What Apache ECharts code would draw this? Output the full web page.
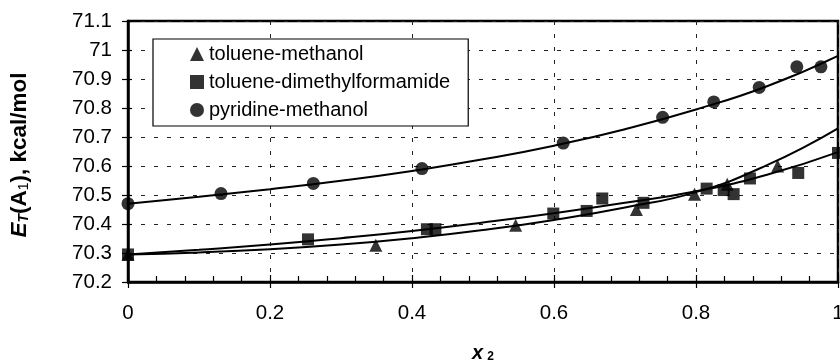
<!DOCTYPE html>
<html>
<head>
<meta charset="utf-8">
<script src="https://cdn.jsdelivr.net/npm/echarts@6/dist/echarts.min.js"></script>
<style>
  html, body { margin: 0; padding: 0; background: #fff; }
  #chart { width: 840px; height: 360px; }
</style>
</head>
<body>
<div id="chart"></div>
<script>
// ---- data ----
const xTicks = [0, 0.2, 0.4, 0.6, 0.8, 1];
const yTicks = [70.2, 70.3, 70.4, 70.5, 70.6, 70.7, 70.8, 70.9, 71, 71.1];

const seriesNames = ['toluene-methanol', 'toluene-dimethylformamide', 'pyridine-methanol'];

// measured points
const tolMethX = [0, 0.349, 0.546, 0.716, 0.798, 0.844, 0.915];
const tolMethY = [70.295, 70.327, 70.396, 70.450, 70.503, 70.537, 70.600];

const tolDmfX = [0, 0.2535, 0.421, 0.433, 0.599, 0.646, 0.668, 0.726, 0.815, 0.839, 0.853, 0.876, 0.944, 1.0];
const tolDmfY = [70.295, 70.347, 70.382, 70.382, 70.436, 70.445, 70.488, 70.473, 70.522, 70.517, 70.503, 70.557, 70.576, 70.645];

const pyrMethX = [0, 0.131, 0.261, 0.414, 0.613, 0.753, 0.825, 0.889, 0.942, 0.976];
const pyrMethY = [70.470, 70.505, 70.540, 70.591, 70.679, 70.768, 70.821, 70.871, 70.942, 70.942];

// fitted curves
const curveX = [0, 0.1, 0.2, 0.3, 0.4, 0.5, 0.6, 0.7, 0.8, 0.9, 1];
const tolMethCurve = [70.295, 70.302, 70.313, 70.329, 70.351, 70.379, 70.414, 70.457, 70.510, 70.603, 70.730];
const tolDmfCurve  = [70.295, 70.311, 70.329, 70.351, 70.376, 70.405, 70.437, 70.473, 70.513, 70.570, 70.648];
const pyrMethCurve = [70.470, 70.494, 70.520, 70.549, 70.583, 70.623, 70.670, 70.727, 70.795, 70.875, 70.980];

// ---- build chart ----
const FONT = 'Liberation Sans, Arial, sans-serif';
const zip = (xs, ys) => xs.map((x, i) => [x, ys[i]]);

const xMin = xTicks[0], xMax = xTicks[xTicks.length - 1];
const yMin = yTicks[0], yMax = yTicks[yTicks.length - 1];
const xInt = xTicks[1] - xTicks[0];
const yInt = 0.1;

const dashed = { color: '#222', width: 1, type: [4, 9] };

const chart = echarts.init(document.getElementById('chart'), null, { renderer: 'canvas' });

const lineSeries = (data) => ({
  type: 'line',
  data: data,
  smooth: true,
  showSymbol: false,
  symbol: 'none',
  silent: true,
  lineStyle: { color: '#000', width: 2 },
  z: 3
});

const option = {
  animation: false,
  backgroundColor: '#fff',
  textStyle: { fontFamily: FONT },
  grid: {
    left: 128, top: 21, width: 710, height: 261,
    outerBoundsMode: 'none', containLabel: false,
    show: true, borderColor: '#000', borderWidth: 2.5, backgroundColor: 'transparent'
  },
  legend: {
    orient: 'vertical',
    left: 153, top: 39,
    data: [
      { name: seriesNames[0], icon: 'triangle' },
      { name: seriesNames[1], icon: 'rect' },
      { name: seriesNames[2], icon: 'circle' }
    ],
    itemWidth: 14, itemHeight: 14, itemGap: 8, itemStyle: { color: '#000' },
    padding: [5, 18, 6, 37],
    borderColor: '#000', borderWidth: 1.2, backgroundColor: '#fff',
    textStyle: { fontSize: 20, color: '#000', fontFamily: FONT }
  },
  xAxis: [
    {
      type: 'value', min: xMin, max: xMax, interval: xInt,
      axisLine: { show: true, lineStyle: { color: '#000', width: 2.5 } },
      axisTick: { show: true, inside: false, length: 6, lineStyle: { color: '#000', width: 1.2 } },
      axisLabel: { fontSize: 20.5, color: '#000', margin: 21, fontFamily: FONT },
      splitLine: { show: true, lineStyle: dashed },
      name: '{x|x}{s|2}',
      nameLocation: 'middle', nameGap: 61,
      nameTextStyle: {
        rich: {
          x: { fontSize: 20, fontWeight: 'bold', fontStyle: 'italic', color: '#000', fontFamily: FONT },
          s: { fontSize: 12, fontWeight: 'bold', color: '#000', fontFamily: FONT, verticalAlign: 'bottom', padding: [5, 0, 0, 4] }
        }
      }
    },
    {
      type: 'value', min: xMin, max: xMax, interval: xInt, position: 'bottom', gridIndex: 0,
      axisLine: { show: false },
      axisTick: { show: true, inside: true, length: 7, lineStyle: { color: '#000', width: 1.2 } },
      minorTick: { show: true, splitNumber: 5, length: 6, lineStyle: { color: '#000', width: 1.2 } },
      axisLabel: { show: false },
      splitLine: { show: false }
    }
  ],
  yAxis: [
    {
      type: 'value', min: yMin, max: yMax, interval: yInt,
      axisLine: { show: true, lineStyle: { color: '#000', width: 2.5 } },
      axisTick: { show: true, inside: false, length: 6, lineStyle: { color: '#000', width: 1.2 } },
      axisLabel: { fontSize: 20.5, color: '#000', margin: 16, fontFamily: FONT },
      splitLine: { show: true, lineStyle: dashed },
      name: '{i|E}{si|T}{b|(A}{s|1}{b|), kcal/mol}',
      nameLocation: 'middle', nameGap: 97,
      nameTextStyle: {
        padding: [0, 7, 0, 0],
        rich: {
          i: { fontSize: 22.5, fontWeight: 'bold', fontStyle: 'italic', color: '#000', fontFamily: FONT },
          si: { fontSize: 14, fontWeight: 'bold', fontStyle: 'italic', color: '#000', fontFamily: FONT, verticalAlign: 'bottom', padding: [8, 0, 0, 0] },
          b: { fontSize: 22.5, fontWeight: 'bold', color: '#000', fontFamily: FONT },
          s: { fontSize: 14, color: '#000', fontFamily: FONT, verticalAlign: 'bottom', padding: [8, 0, 0, 0] }
        }
      }
    },
    {
      type: 'value', min: yMin, max: yMax, interval: yInt, position: 'left', gridIndex: 0,
      axisLine: { show: false },
      axisTick: { show: true, inside: true, length: 4, lineStyle: { color: '#000', width: 1.2 } },
      axisLabel: { show: false },
      splitLine: { show: false }
    }
  ],
  series: [
    lineSeries(zip(curveX, tolMethCurve)),
    lineSeries(zip(curveX, tolDmfCurve)),
    lineSeries(zip(curveX, pyrMethCurve)),
    {
      name: seriesNames[0], type: 'scatter', data: zip(tolMethX, tolMethY),
      symbol: 'triangle', symbolSize: 13, itemStyle: { color: '#000' }, z: 5
    },
    {
      name: seriesNames[1], type: 'scatter', data: zip(tolDmfX, tolDmfY),
      symbol: 'rect', symbolSize: 12, itemStyle: { color: '#000' }, z: 6
    },
    {
      name: seriesNames[2], type: 'scatter', data: zip(pyrMethX, pyrMethY),
      symbol: 'circle', symbolSize: 13, itemStyle: { color: '#000' }, z: 5
    }
  ]
};

chart.setOption(option);
</script>
</body>
</html>
